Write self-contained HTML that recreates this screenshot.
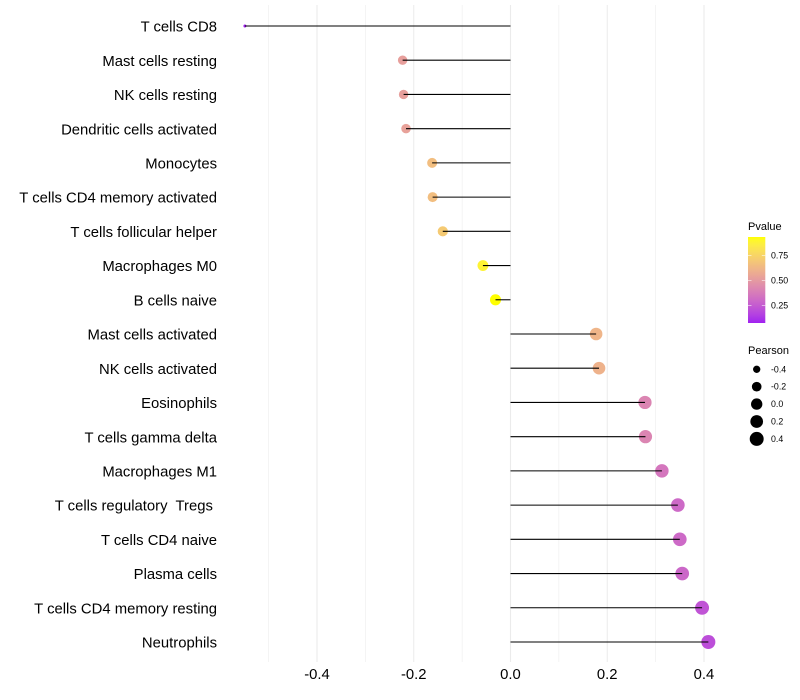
<!DOCTYPE html>
<html>
<head>
<meta charset="utf-8">
<style>
html,body{margin:0;padding:0;background:#fff}
svg{display:block}
text{font-family:"Liberation Sans",sans-serif;white-space:pre}
</style>
</head>
<body>
<svg id="chart" width="800" height="700" viewBox="0 0 800 700" xmlns="http://www.w3.org/2000/svg">
  <g id="grid"></g>
  <g id="points"></g>
  <g id="ylabels"></g>
  <g id="xlabels"></g>
  <g id="legend-p">
    <defs><linearGradient id="pgrad" x1="0" y1="1" x2="0" y2="0"></linearGradient></defs>
    <text x="748" y="230" font-size="11">Pvalue</text>
    <rect id="pbar" x="748" y="237" width="17.3" height="86" fill="url(#pgrad)"></rect>
  </g>
  <g id="legend-s">
    <text x="748" y="354" font-size="11">Pearson</text>
  </g>
</svg>
<script>
const categories = ["T cells CD8","Mast cells resting","NK cells resting","Dendritic cells activated","Monocytes","T cells CD4 memory activated","T cells follicular helper","Macrophages M0","B cells naive","Mast cells activated","NK cells activated","Eosinophils","T cells gamma delta","Macrophages M1","T cells regulatory  Tregs ","T cells CD4 naive","Plasma cells","T cells CD4 memory resting","Neutrophils"];
const pearson = [-0.549,-0.223,-0.221,-0.216,-0.162,-0.161,-0.14,-0.057,-0.031,0.177,0.183,0.278,0.279,0.313,0.346,0.35,0.355,0.396,0.409];
const pvalue = [0.07,0.52,0.52,0.53,0.65,0.65,0.7,0.88,0.93,0.61,0.6,0.41,0.41,0.35,0.3,0.3,0.29,0.22,0.2];
const xTicks = [-0.4,-0.2,0,0.2,0.4];
const xMinorTicks = [-0.5,-0.3,-0.1,0.1,0.3];
const pTicks = [0.25,0.5,0.75];
const sizeTicks = [-0.4,-0.2,0,0.2,0.4];

const NS = "http://www.w3.org/2000/svg";
function mk(tag, attrs, parent){
  const e = document.createElementNS(NS, tag);
  for (const k in attrs) e.setAttribute(k, attrs[k]);
  parent.appendChild(e);
  return e;
}
// axis functions
const xScale = v => 510.5 + v * 483.75;
const yScale = i => 26 + i * 34.222;
const prMin = Math.min(...pearson), prMax = Math.max(...pearson);
const pToY = p => 280.5 - (p - 0.5) * 100;
function radius(v){
  const t = Math.max(0, (v - prMin) / (prMax - prMin));
  return 1.5 + 5.5 * Math.sqrt(t);
}
// Lab colour interpolation purple -> yellow
function rgb2lab(c){
  const f = u => { u/=255; return u>0.04045?Math.pow((u+0.055)/1.055,2.4):u/12.92; };
  const r=f(c[0]),g=f(c[1]),b=f(c[2]);
  const X=(0.4124*r+0.3576*g+0.1805*b)/0.95047,Y=0.2126*r+0.7152*g+0.0722*b,Z=(0.0193*r+0.1192*g+0.9505*b)/1.08883;
  const h = t => t>0.008856?Math.cbrt(t):7.787*t+16/116;
  return [116*h(Y)-16,500*(h(X)-h(Y)),200*(h(Y)-h(Z))];
}
function lab2rgb(l){
  const fy=(l[0]+16)/116,fx=fy+l[1]/500,fz=fy-l[2]/200;
  const h = t => t*t*t>0.008856?t*t*t:(t-16/116)/7.787;
  const X=h(fx)*0.95047,Y=h(fy),Z=h(fz)*1.08883;
  const g = u => { u=Math.max(0,Math.min(1,u)); return Math.round(255*(u>0.0031308?1.055*Math.pow(u,1/2.4)-0.055:12.92*u)); };
  return [g(3.2406*X-1.5372*Y-0.4986*Z),g(-0.9689*X+1.8758*Y+0.0415*Z),g(0.0557*X-0.204*Y+1.057*Z)];
}
const labLow = rgb2lab([160,32,240]), labHigh = rgb2lab([255,255,0]);
function pColor(p){
  const t = Math.max(0, Math.min(1, (p - 0.07) / (0.93 - 0.07)));
  const c = lab2rgb(labLow.map((a,i)=>a+(labHigh[i]-a)*t));
  return "rgb("+c.join(",")+")";
}

const grid = document.getElementById("grid");
xMinorTicks.forEach(v => {
  const l = mk("line",{x1:xScale(v),x2:xScale(v),y1:5,y2:662,stroke:"#ebebeb","stroke-width":0.55},grid);
  
  
});
xTicks.forEach(v => {
  const l = mk("line",{x1:xScale(v),x2:xScale(v),y1:5,y2:662,stroke:"#ebebeb","stroke-width":1.07},grid);
  
  
});

const pts = document.getElementById("points"), yl = document.getElementById("ylabels");
categories.forEach((c,i) => {
  const y = yScale(i), x = xScale(pearson[i]);
  const pt = mk("circle",{cx:x,cy:y,r:radius(pearson[i]),fill:pColor(pvalue[i])},pts);
  
  
  const s = mk("line",{x1:xScale(0),x2:x,y1:y,y2:y,stroke:"#000","stroke-width":1.07},pts);
  
  
  const t = mk("text",{x:217,y:y+5.6,"text-anchor":"end","font-size":14.85,fill:"#000"},yl);
  
  
  t.textContent = c;
});

const xl = document.getElementById("xlabels");
xTicks.forEach(v => {
  const t = mk("text",{x:xScale(v),y:679,"text-anchor":"middle","font-size":14.85,fill:"#000"},xl);
  
  
  t.textContent = v.toFixed(1);
});

const grad = document.getElementById("pgrad");
for (let i=0;i<=30;i++){
  const st = mk("stop",{offset:(i/30),"stop-color":pColor(0.07+0.86*i/30)},grad);
  
  
}
const lp = document.getElementById("legend-p");
pTicks.forEach(p => {
  const y = pToY(p);
  [[748,751.5],[761.8,765.3]].forEach(r => {
    const l = mk("line",{x1:r[0],x2:r[1],y1:y,y2:y,stroke:"#fff","stroke-width":0.55},lp);
    
    
  });
  const t = mk("text",{x:771,y:y+3,"font-size":8.8,fill:"#000"},lp);
  
  
  t.textContent = p.toFixed(2);
});
const ls = document.getElementById("legend-s");
sizeTicks.forEach((v,i) => {
  const y = 369.3 + i * 17.4;
  const k = mk("circle",{cx:756.7,cy:y,r:radius(v),fill:"#000"},ls);
  
  
  const t = mk("text",{x:771,y:y+3,"font-size":8.8,fill:"#000"},ls);
  
  
  t.textContent = v.toFixed(1);
});
</script>
</body>
</html>
